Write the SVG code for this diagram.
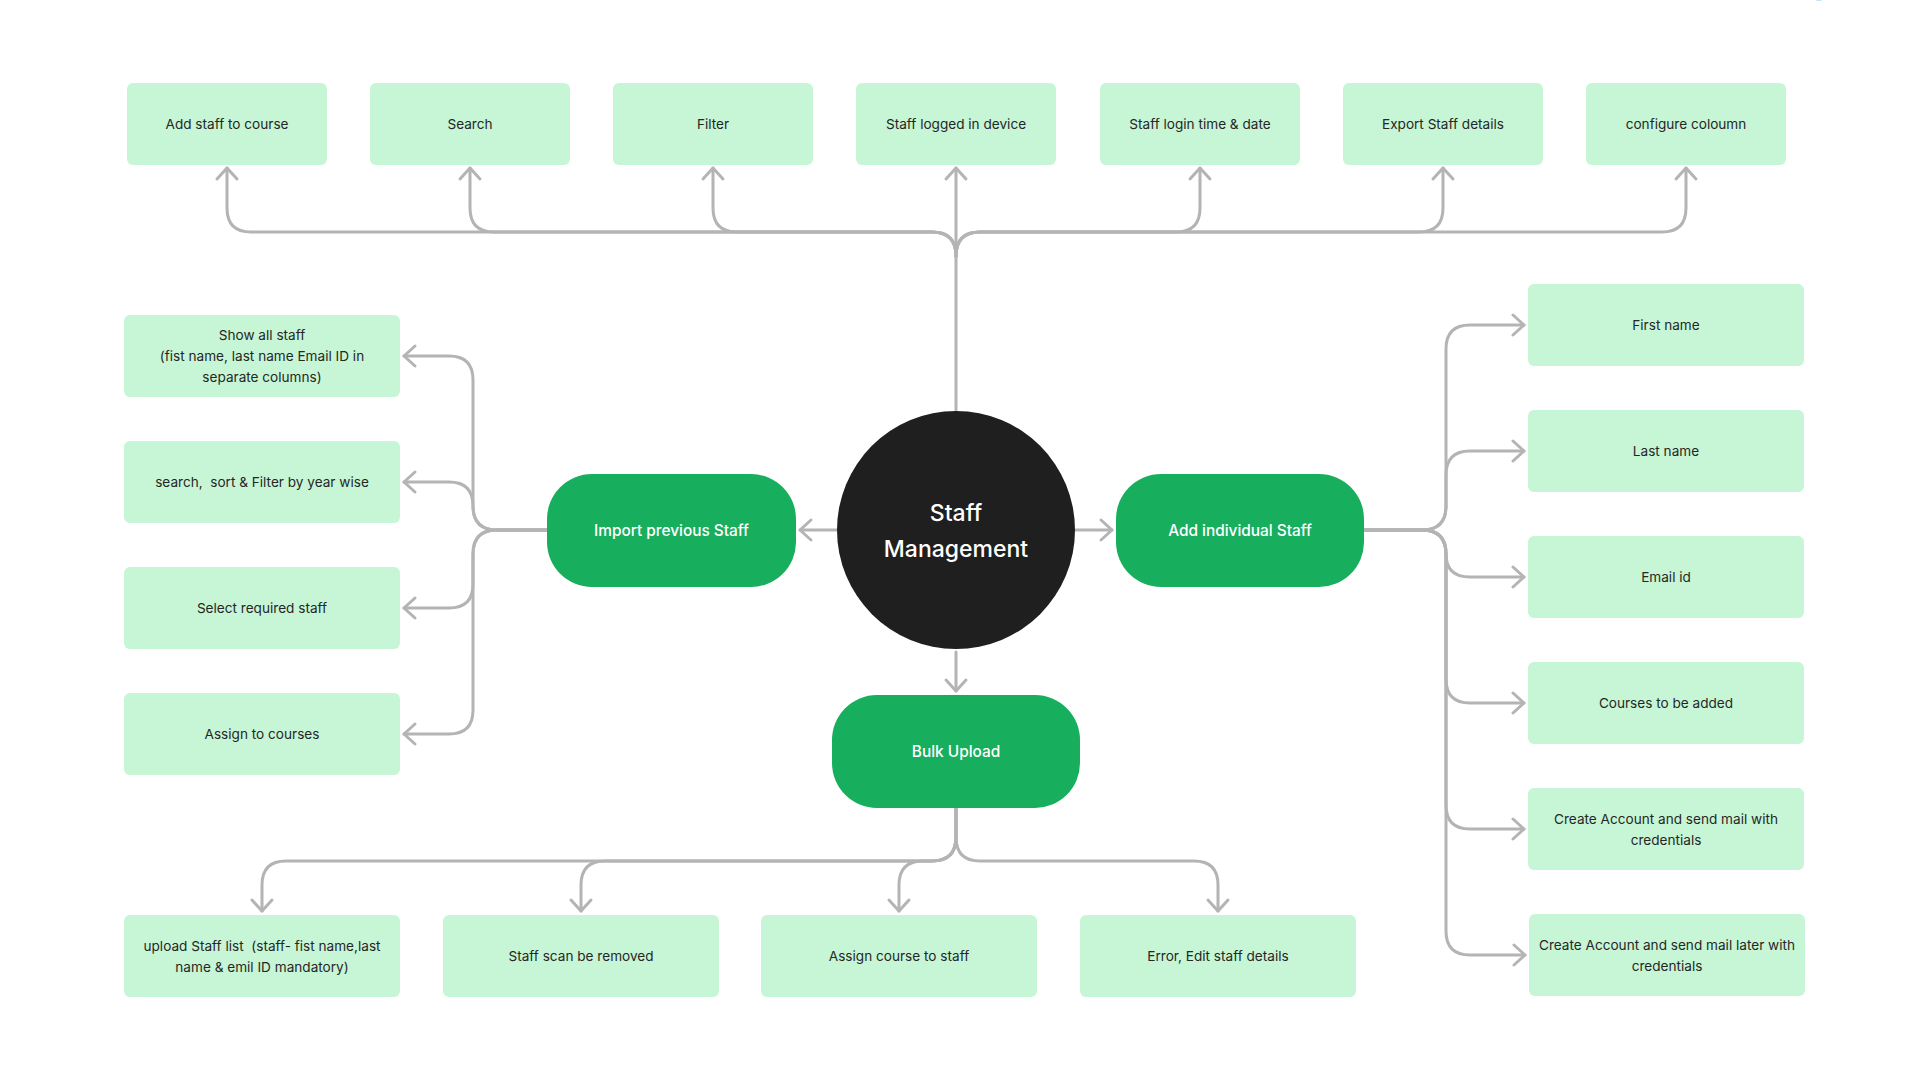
<svg xmlns="http://www.w3.org/2000/svg" width="1920" height="1080" viewBox="0 0 1920 1080">
  <defs>
    <marker id="arr" markerUnits="userSpaceOnUse" markerWidth="30" markerHeight="30" viewBox="-15 -15 30 30" refX="0" refY="0" orient="auto" overflow="visible">
      <path d="M -11 -10 L 0 0 L -11 10" fill="none" stroke="#b4b4b4" stroke-width="3" stroke-linecap="round" stroke-linejoin="round"/>
    </marker>
    <style>
      .box { fill: #c6f6d5; }
      .node { fill: #17ae5e; }
      .t { font-family: Inter, "Noto Sans", "Liberation Sans", sans-serif; font-size: 13.6px; fill: #262626; text-anchor: middle; }
      .nt { font-family: Inter, "Noto Sans", "Liberation Sans", sans-serif; font-size: 15.4px; font-weight: 500; fill: #ffffff; text-anchor: middle; }
      .ct { font-family: Inter, "Noto Sans", "Liberation Sans", sans-serif; font-size: 23px; font-weight: 500; fill: #ffffff; text-anchor: middle; }
      .pre { white-space: pre; }
      .c { fill: none; stroke: #b4b4b4; stroke-width: 3; stroke-linecap: round; stroke-linejoin: round; marker-end: url(#arr); }
    </style>
  </defs>
  <rect width="1920" height="1080" fill="#ffffff"/>
  <ellipse cx="1819" cy="-2" rx="4" ry="3" fill="#bfdff7"/>

  <g id="connectors">
    <!-- top -->
    <path class="c" d="M 956 410 V 168"/>
    <path class="c" d="M 956 256 Q 956 232 932 232 H 251 Q 227 232 227 208 V 168"/>
    <path class="c" d="M 956 256 Q 956 232 932 232 H 494 Q 470 232 470 208 V 168"/>
    <path class="c" d="M 956 256 Q 956 232 932 232 H 737 Q 713 232 713 208 V 168"/>
    <path class="c" d="M 956 256 Q 956 232 980 232 H 1176 Q 1200 232 1200 208 V 168"/>
    <path class="c" d="M 956 256 Q 956 232 980 232 H 1419 Q 1443 232 1443 208 V 168"/>
    <path class="c" d="M 956 256 Q 956 232 980 232 H 1662 Q 1686 232 1686 208 V 168"/>
    <!-- center -->
    <path class="c" d="M 837 530 H 800"/>
    <path class="c" d="M 1075 530 H 1112"/>
    <path class="c" d="M 956 652 V 691"/>
    <!-- left -->
    <path class="c" d="M 547 530 H 497 Q 473 530 473 506 V 380 Q 473 356 449 356 H 404"/>
    <path class="c" d="M 547 530 H 497 Q 473 530 473 506 Q 473 482 449 482 H 404"/>
    <path class="c" d="M 547 530 H 497 Q 473 530 473 554 V 584 Q 473 608 449 608 H 404"/>
    <path class="c" d="M 547 530 H 497 Q 473 530 473 554 V 710 Q 473 734 449 734 H 404"/>
    <!-- right -->
    <path class="c" d="M 1364 530 H 1422 Q 1446 530 1446 506 V 349 Q 1446 325 1470 325 H 1524"/>
    <path class="c" d="M 1364 530 H 1422 Q 1446 530 1446 506 V 475 Q 1446 451 1470 451 H 1524"/>
    <path class="c" d="M 1364 530 H 1422 Q 1446 530 1446 554 Q 1446 577 1470 577 H 1524"/>
    <path class="c" d="M 1364 530 H 1422 Q 1446 530 1446 554 V 679 Q 1446 703 1470 703 H 1524"/>
    <path class="c" d="M 1364 530 H 1422 Q 1446 530 1446 554 V 805 Q 1446 829 1470 829 H 1524"/>
    <path class="c" d="M 1364 530 H 1422 Q 1446 530 1446 554 V 931 Q 1446 955 1470 955 H 1525"/>
    <!-- bottom -->
    <path class="c" d="M 956 808 V 837 Q 956 861 932 861 H 286 Q 262 861 262 885 V 911"/>
    <path class="c" d="M 956 808 V 837 Q 956 861 932 861 H 605 Q 581 861 581 885 V 911"/>
    <path class="c" d="M 956 808 V 837 Q 956 861 932 861 H 923 Q 899 861 899 885 V 911"/>
    <path class="c" d="M 956 808 V 837 Q 956 861 980 861 H 1194 Q 1218 861 1218 885 V 911"/>
  </g>

  <!-- top row -->
  <g id="n-add-staff-course"><rect class="box" x="127" y="83" width="200" height="82" rx="6"/><text class="t" x="227" y="129">Add staff to course</text></g>
  <g id="n-search"><rect class="box" x="370" y="83" width="200" height="82" rx="6"/><text class="t" x="470" y="129">Search</text></g>
  <g id="n-filter"><rect class="box" x="613" y="83" width="200" height="82" rx="6"/><text class="t" x="713" y="129">Filter</text></g>
  <g id="n-logged-device"><rect class="box" x="856" y="83" width="200" height="82" rx="6"/><text class="t" x="956" y="129">Staff logged in device</text></g>
  <g id="n-login-time"><rect class="box" x="1100" y="83" width="200" height="82" rx="6"/><text class="t" x="1200" y="129">Staff login time &amp; date</text></g>
  <g id="n-export"><rect class="box" x="1343" y="83" width="200" height="82" rx="6"/><text class="t" x="1443" y="129">Export Staff details</text></g>
  <g id="n-configure"><rect class="box" x="1586" y="83" width="200" height="82" rx="6"/><text class="t" x="1686" y="129">configure coloumn</text></g>

  <!-- left column -->
  <g id="n-show-all"><rect class="box" x="124" y="315" width="276" height="82" rx="6"/>
    <text class="t" x="262" y="340">Show all staff</text>
    <text class="t" x="262" y="361">(fist name, last name Email ID in</text>
    <text class="t" x="262" y="382">separate columns)</text></g>
  <g id="n-search-sort"><rect class="box" x="124" y="441" width="276" height="82" rx="6"/><text class="t pre" x="262" y="487">search,  sort &amp; Filter by year wise</text></g>
  <g id="n-select"><rect class="box" x="124" y="567" width="276" height="82" rx="6"/><text class="t" x="262" y="613">Select required staff</text></g>
  <g id="n-assign-courses"><rect class="box" x="124" y="693" width="276" height="82" rx="6"/><text class="t" x="262" y="739">Assign to courses</text></g>

  <!-- center -->
  <g id="n-center"><circle cx="956" cy="530" r="119" fill="#1f1f1f"/>
    <text class="ct" x="956" y="521">Staff</text>
    <text class="ct" x="956" y="557">Management</text></g>
  <g id="n-import"><rect class="node" x="547" y="474" width="249" height="113" rx="45"/><text class="nt" x="671.5" y="536">Import previous Staff</text></g>
  <g id="n-add-individual"><rect class="node" x="1116" y="474" width="248" height="113" rx="45"/><text class="nt" x="1240" y="536">Add individual Staff</text></g>
  <g id="n-bulk"><rect class="node" x="832" y="695" width="248" height="113" rx="45"/><text class="nt" x="956" y="757">Bulk Upload</text></g>

  <!-- right column -->
  <g id="n-first"><rect class="box" x="1528" y="284" width="276" height="82" rx="6"/><text class="t" x="1666" y="330">First name</text></g>
  <g id="n-last"><rect class="box" x="1528" y="410" width="276" height="82" rx="6"/><text class="t" x="1666" y="456">Last name</text></g>
  <g id="n-email"><rect class="box" x="1528" y="536" width="276" height="82" rx="6"/><text class="t" x="1666" y="582">Email id</text></g>
  <g id="n-courses"><rect class="box" x="1528" y="662" width="276" height="82" rx="6"/><text class="t" x="1666" y="708">Courses to be added</text></g>
  <g id="n-create-send"><rect class="box" x="1528" y="788" width="276" height="82" rx="6"/>
    <text class="t" x="1666" y="824">Create Account and send mail with</text>
    <text class="t" x="1666" y="845">credentials</text></g>
  <g id="n-create-later"><rect class="box" x="1529" y="914" width="276" height="82" rx="6"/>
    <text class="t" x="1667" y="950">Create Account and send mail later with</text>
    <text class="t" x="1667" y="971">credentials</text></g>

  <!-- bottom row -->
  <g id="n-upload-list"><rect class="box" x="124" y="915" width="276" height="82" rx="6"/>
    <text class="t pre" x="262" y="951">upload Staff list  (staff- fist name,last</text>
    <text class="t" x="262" y="972">name &amp; emil ID mandatory)</text></g>
  <g id="n-removed"><rect class="box" x="443" y="915" width="276" height="82" rx="6"/><text class="t" x="581" y="961">Staff scan be removed</text></g>
  <g id="n-assign-course"><rect class="box" x="761" y="915" width="276" height="82" rx="6"/><text class="t" x="899" y="961">Assign course to staff</text></g>
  <g id="n-error"><rect class="box" x="1080" y="915" width="276" height="82" rx="6"/><text class="t" x="1218" y="961">Error, Edit staff details</text></g>
</svg>
